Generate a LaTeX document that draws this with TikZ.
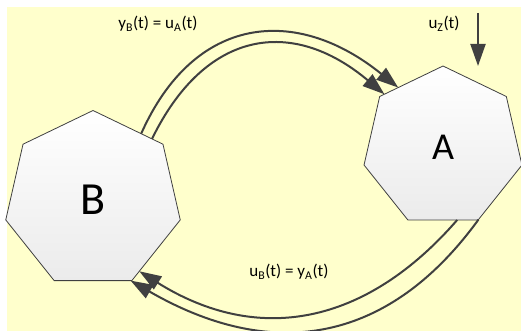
\documentclass[tikz,border=0pt]{standalone}
\usepackage{fontspec}
\setmainfont{Carlito}
\usepackage{xcolor}
\definecolor{diagBack}{HTML}{FFFFCC}
\definecolor{diagLine}{HTML}{404040}
\definecolor{diagShade}{HTML}{EBEBEB}
\usetikzlibrary{shapes.geometric,arrows.meta}

\begin{document}
\begin{tikzpicture}[
  block/.style={regular polygon, regular polygon sides=7, draw=diagLine, top color=white, bottom color=diagShade, inner sep=0pt, outer sep=0pt, line width=0.8pt},
  flowArrow/.style={draw=diagLine, line width=2pt, -{Triangle[length=22pt,width=15pt]}},
  sigLabel/.style={text=black, font=\fontsize{17pt}{20pt}\selectfont},
]
  \useasboundingbox (0pt,0pt) rectangle (521pt,331pt);
  \filldraw[fill=white, draw=none] (0pt,0pt) rectangle (521pt,331pt);
  \filldraw[fill=diagBack, draw=none] (7pt,0pt) rectangle (521pt,324pt);
  \node[block, minimum size=179pt, font=\fontsize{46pt}{46pt}\selectfont] (B) at (93pt,131pt) {B};
  \node[block, minimum size=162pt, font=\fontsize{38pt}{38pt}\selectfont] (A) at (443pt,184pt) {A};
  % signal labels
  \node[sigLabel] (yBLabel) at (158pt,307pt) {y\textsubscript{B}(t) = u\textsubscript{A}(t)};
  \node[sigLabel] (uZLabel) at (444pt,307pt) {u\textsubscript{Z}(t)};
  \node[sigLabel] (uBLabel) at (289pt,59pt) {u\textsubscript{B}(t) = y\textsubscript{A}(t)};
  % external input
  \coordinate (uZIn) at (478pt,318pt);
  \draw[flowArrow] (uZIn) -- (uZIn |- A.corner 1);
  % B to A
  \draw[flowArrow] (B.54) to[out=66, in=141, looseness=1.28] (A.127);
  \draw[flowArrow] (B.46) to[out=64, in=140, looseness=1.31] (A.138);
  % A to B
  \draw[flowArrow] (A.-79) to[out=229, in=-32, looseness=1.11] (B.-57);
  \draw[flowArrow] (A.-64) to[out=234, in=-30, looseness=1.15] (B.-65);
\end{tikzpicture}
\end{document}
